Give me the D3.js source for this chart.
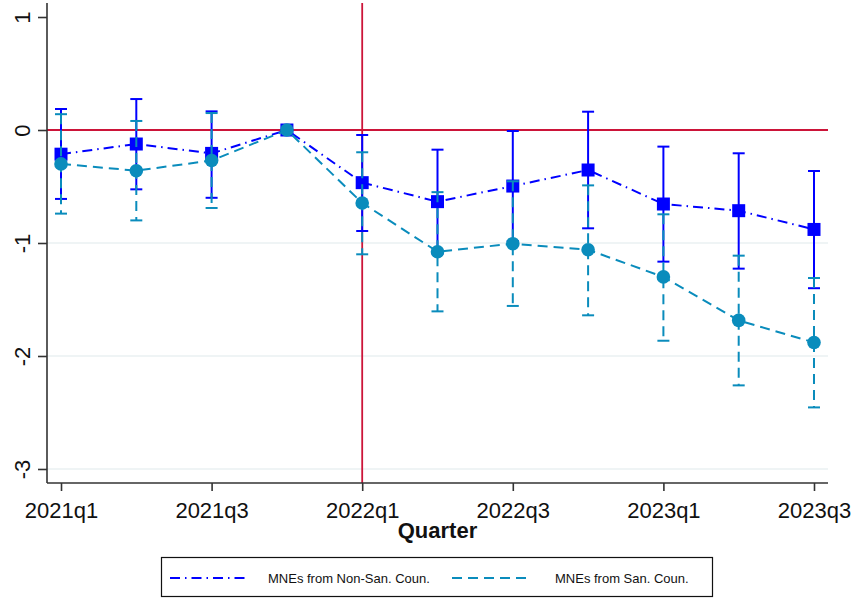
<!DOCTYPE html>
<html><head><meta charset="utf-8">
<script src="https://cdn.jsdelivr.net/npm/d3@7"></script>
<style>body{margin:0;background:#fff}svg{display:block}</style>
</head><body>
<svg id="c" width="854" height="599"></svg>
<script>
const quarters = ["2021q1","2021q2","2021q3","2021q4","2022q1","2022q2","2022q3","2022q4","2023q1","2023q2","2023q3"];
const tickQuarters = ["2021q1","2021q3","2022q1","2022q3","2023q1","2023q3"];
const yTicks = [1,0,-1,-2,-3];
const gridTicks = [-1,-2,-3];
const nonSan   = [-0.214,-0.124,-0.207,0,-0.466,-0.634,-0.496,-0.354,-0.655,-0.714,-0.88];
const nonSanLo = [-0.61,-0.525,-0.60,null,-0.894,-1.094,-0.983,-0.87,-1.165,-1.227,-1.40];
const nonSanHi = [0.186,0.274,0.165,null,-0.044,-0.174,-0.009,0.162,-0.147,-0.206,-0.363];
const san      = [-0.30,-0.36,-0.27,0,-0.646,-1.077,-1.006,-1.06,-1.30,-1.685,-1.88];
const sanLo    = [-0.74,-0.80,-0.69,null,-1.10,-1.605,-1.557,-1.64,-1.865,-2.26,-2.455];
const sanHi    = [0.14,0.08,0.15,null,-0.197,-0.55,-0.454,-0.49,-0.746,-1.112,-1.31];
const legendLabels = ["MNEs from Non-San. Coun.","MNEs from San. Coun."];
const eventQuarter = "2022q1";

const svg = d3.select("#c");
const font = "'Liberation Sans', Arial, sans-serif";
const red = "#cc1439", blue = "#0000ff", teal = "#0a8cbc";

const idx = q => quarters.indexOf(q);
const x = d3.scaleLinear().domain([-0.186, 10.186]).range([47, 828]);
const y = d3.scaleLinear().domain([-3.124, 1.124]).range([483, 3]);

// gridlines
svg.append("g").selectAll("line").data(gridTicks).join("line")
  .attr("x1", 47).attr("x2", 828).attr("y1", d=>y(d)).attr("y2", d=>y(d))
  .attr("stroke", "#eaf1f2").attr("stroke-width", 1.6);

// reference lines
svg.append("line").attr("x1", 47).attr("x2", 828).attr("y1", y(0)).attr("y2", y(0))
  .attr("stroke", red).attr("stroke-width", 1.8);
svg.append("line").attr("x1", x(idx(eventQuarter))).attr("x2", x(idx(eventQuarter)))
  .attr("y1", y.range()[1]).attr("y2", y.range()[0]).attr("stroke", red).attr("stroke-width", 1.8);

// axes
const yAxis = d3.axisLeft(y).tickValues(yTicks).tickSize(9).tickFormat(d => String(d));
const gy = svg.append("g").attr("transform", "translate(47,0)").call(yAxis);
gy.select(".domain").attr("stroke", "#333").attr("stroke-width", 1.6).attr("d", `M0,${y.range()[1]}V${y.range()[0]}`);
gy.selectAll(".tick line").attr("stroke", "#333").attr("stroke-width", 1.6);
gy.selectAll(".tick text").attr("font-family", font).attr("font-size", 22).attr("fill", "#111")
  .attr("text-anchor", "middle").attr("dy", 0).attr("x", 0)
  .attr("transform", "translate(-17,0) rotate(-90)");

const xAxis = d3.axisBottom(x).tickValues(tickQuarters.map(idx)).tickSize(8).tickFormat(i => quarters[i]);
const gx = svg.append("g").attr("transform", "translate(0,483)").call(xAxis);
gx.select(".domain").attr("stroke", "#333").attr("stroke-width", 1.6).attr("d", "M47,0H828");
gx.selectAll(".tick line").attr("stroke", "#333").attr("stroke-width", 1.6);
gx.selectAll(".tick text").attr("font-family", font).attr("font-size", 22).attr("fill", "#111")
  .attr("y", 35).attr("dy", 0);

svg.append("text").attr("x", (x(0)+x(10))/2).attr("y", 538).attr("text-anchor", "middle")
  .attr("font-family", font).attr("font-size", 22).attr("font-weight", "bold").attr("fill", "#111")
  .text("Quarter");

function drawSeries(vals, lo, hi, color, dash, barDash, marker) {
  const g = svg.append("g");
  const pts = vals.map((v,i)=>({i, v, lo: lo[i], hi: hi[i]}));
  const bars = pts.filter(p => p.lo !== null);
  g.selectAll(".bar").data(bars).join("line")
    .attr("x1", p=>x(p.i)).attr("x2", p=>x(p.i)).attr("y1", p=>y(p.hi)).attr("y2", p=>y(p.lo))
    .attr("stroke", color).attr("stroke-width", 2).attr("stroke-dasharray", barDash);
  ["hi","lo"].forEach(k => {
    g.selectAll(".cap"+k).data(bars).join("line")
      .attr("x1", p=>x(p.i)-6).attr("x2", p=>x(p.i)+6).attr("y1", p=>y(p[k])).attr("y2", p=>y(p[k]))
      .attr("stroke", color).attr("stroke-width", 2);
  });
  const line = d3.line().x(p=>x(p.i)).y(p=>y(p.v));
  g.append("path").attr("d", line(pts)).attr("fill", "none").attr("stroke", color)
    .attr("stroke-width", 2).attr("stroke-dasharray", dash);
  if (marker === "square") {
    g.selectAll(".m").data(pts).join("rect")
      .attr("x", p=>x(p.i)-6.5).attr("y", p=>y(p.v)-6.5).attr("width", 13).attr("height", 13)
      .attr("fill", color);
  } else {
    g.selectAll(".m").data(pts).join("circle")
      .attr("cx", p=>x(p.i)).attr("cy", p=>y(p.v)).attr("r", 6.8).attr("fill", color);
  }
}
drawSeries(nonSan, nonSanLo, nonSanHi, blue, "10,5,1.5,5", null, "square");
drawSeries(san, sanLo, sanHi, teal, "10,6", "10,6", "circle");

// legend
const lg = svg.append("g");
lg.append("rect").attr("x", 161.5).attr("y", 557.5).attr("width", 551).attr("height", 39)
  .attr("fill", "#fff").attr("stroke", "#111").attr("stroke-width", 1.2);
const items = [
  {label: legendLabels[0], color: blue, dash: "10,5,1.5,5", x0: 170, tx: 268},
  {label: legendLabels[1], color: teal, dash: "10,6", x0: 452, tx: 555}
];
items.forEach(it => {
  lg.append("line").attr("x1", it.x0).attr("x2", it.x0+79).attr("y1", 578).attr("y2", 578)
    .attr("stroke", it.color).attr("stroke-width", 2).attr("stroke-dasharray", it.dash);
  lg.append("text").attr("x", it.tx).attr("y", 582.5).attr("font-family", font)
    .attr("font-size", 13).attr("fill", "#111").text(it.label);
});
</script>
</body></html>
